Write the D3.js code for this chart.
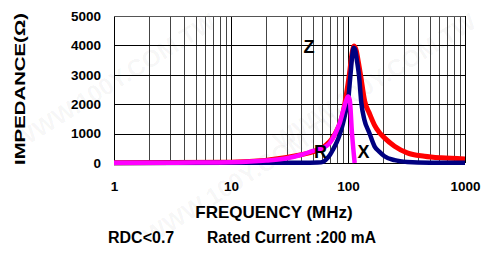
<!DOCTYPE html>
<html>
<head>
<meta charset="utf-8">
<script src="https://cdn.jsdelivr.net/npm/d3@7"></script>
<style>
  body { margin: 0; background: #fff; }
  text { font-family: "Liberation Sans", Arial, sans-serif; font-weight: bold; }
</style>
</head>
<body>
<div id="chart-area"></div>
<script>
// impedance vs frequency
const xTicks = [1, 10, 100, 1000]
const yTicks = [0, 1000, 2000, 3000, 4000, 5000]

const zFreq = [1, 10, 40, 60, 77, 90, 97, 103, 108, 113, 118, 123, 128, 139, 152, 168, 186, 205, 250, 321, 450, 627, 1000]
const zVal  = [5, 28, 285, 510, 970, 1650, 2350, 3050, 3700, 3980, 3800, 3400, 3000, 2100, 1700, 1300, 1030, 855, 570, 345, 230, 175, 140]

const xFreq = [1, 10, 40, 55, 62, 65, 70, 74.5, 80, 85, 90, 95, 100, 105, 109, 112, 115, 119, 124, 130, 138, 152, 169, 186, 205, 250, 321, 500, 1000]
const xVal  = [3, 5, 8, 15, 50, 120, 270, 457, 700, 966, 1300, 1700, 2100, 3000, 3700, 3920, 3850, 3500, 3000, 2050, 1475, 1030, 560, 380, 230, 95, 35, 12, 8]

const rFreq = [1, 2, 5, 10, 20, 30, 40, 50, 60, 70, 77, 85, 92, 97, 100, 103.5, 108, 114]
const rVal  = [5, 8, 14, 28, 85, 160, 280, 410, 500, 680, 960, 1360, 1850, 2150, 2260, 2150, 1050, 0]

const MARGIN = { LEFT: 114, RIGHT: 21, TOP: 16, BOTTOM: 90 }
const W = 486, H = 253

const svg = d3.select('#chart-area')
    .append('svg')
    .attr('width', W)
    .attr('height', H)

// faint watermark, kept inside the picture
const wmPos = [[20, 150], [150, 245], [280, 150]]
svg.append('g')
    .selectAll('text')
    .data(wmPos)
    .enter()
    .append('text')
    .attr('transform', d => `translate(${ d[0] }, ${ d[1] }) rotate(-32)`)
    .attr('font-family', '"Liberation Serif", serif')
    .attr('font-size', 24)
    .attr('fill', '#000')
    .attr('fill-opacity', 0.045)
    .text('WWW.100Y.COM.TW')

const x = d3.scaleLog()
    .domain([1, 1000])
    .range([MARGIN.LEFT, W - MARGIN.RIGHT])

const y = d3.scaleLinear()
    .domain([0, 5000])
    .range([H - MARGIN.BOTTOM, MARGIN.TOP])

// grid
const minor = []
for (let d = 1; d < 1000; d *= 10) for (let k = 1; k < 10; k++) minor.push(d * k)
minor.push(1000)

svg.append('g')
    .selectAll('line')
    .data(minor)
    .enter()
    .append('line')
    .attr('x1', d => Math.round(x(d)) + 0.5)
    .attr('x2', d => Math.round(x(d)) + 0.5)
    .attr('y1', y(5000))
    .attr('y2', y(0))
    .attr('stroke', d => xTicks.includes(d) ? '#000' : '#444')
    .attr('stroke-width', 1)

svg.append('g')
    .selectAll('line')
    .data(yTicks)
    .enter()
    .append('line')
    .attr('x1', x(1))
    .attr('x2', x(1000))
    .attr('y1', d => Math.round(y(d)) + 0.5)
    .attr('y2', d => Math.round(y(d)) + 0.5)
    .attr('stroke', d => d == 5000 ? '#555' : '#000')
    .attr('stroke-width', 1)

// axes labels
const yAxis = svg.append('g')
    .attr('transform', `translate(${ MARGIN.LEFT - 13 }, 0)`)
    .call(d3.axisLeft(y).tickValues(yTicks).tickSize(0).tickPadding(0).tickFormat(d3.format('d')))
yAxis.select('.domain').remove()
yAxis.selectAll('text').attr('font-size', 13.5).attr('font-family', null).attr('fill', '#000')

const xAxis = svg.append('g')
    .attr('transform', `translate(0, ${ y(0) + 18 })`)
    .call(d3.axisBottom(x).tickValues(xTicks).tickSize(0).tickPadding(0).tickFormat(d3.format('d')))
xAxis.select('.domain').remove()
xAxis.selectAll('text').attr('font-size', 13.5).attr('font-family', null).attr('fill', '#000')

// curves
const line = d3.line()
    .x(d => x(d[0]))
    .y(d => y(d[1]))
    .curve(d3.curveMonotoneX)

const series = [
  { f: zFreq, v: zVal, color: '#ff0000', w: 5 },
  { f: xFreq, v: xVal, color: '#000080', w: 4.5 },
  { f: rFreq, v: rVal, color: '#ff00ff', w: 4.5 }
]

svg.selectAll('path.curve')
    .data(series)
    .enter()
    .append('path')
    .attr('class', 'curve')
    .attr('d', s => line(d3.zip(s.f, s.v)))
    .attr('fill', 'none')
    .attr('stroke', s => s.color)
    .attr('stroke-width', s => s.w)

// curve names
svg.append('text').attr('x', 309).attr('y', 52.5).attr('text-anchor', 'middle').attr('font-size', 18).text('Z')
svg.append('text').attr('x', 320.5).attr('y', 157.5).attr('text-anchor', 'middle').attr('font-size', 18).text('R')
svg.append('text').attr('x', 363.5).attr('y', 158).attr('text-anchor', 'middle').attr('font-size', 18).text('X')

// titles
svg.append('text')
    .attr('x', 274)
    .attr('y', 218)
    .attr('text-anchor', 'middle')
    .attr('font-size', 17)
    .text('FREQUENCY (MHz)')

svg.append('text')
    .attr('transform', 'translate(25, 89) rotate(-90)')
    .attr('text-anchor', 'middle')
    .attr('font-size', 14)
    .attr('textLength', 152)
    .attr('lengthAdjust', 'spacingAndGlyphs')
    .text('IMPEDANCE(Ω)')

svg.append('text')
    .attr('x', 108)
    .attr('y', 243)
    .attr('font-size', 16)
    .text('RDC<0.7')

svg.append('text')
    .attr('x', 207)
    .attr('y', 243)
    .attr('font-size', 16)
    .attr('textLength', 169)
    .attr('lengthAdjust', 'spacingAndGlyphs')
    .text('Rated Current :200 mA')
</script>
</body>
</html>
